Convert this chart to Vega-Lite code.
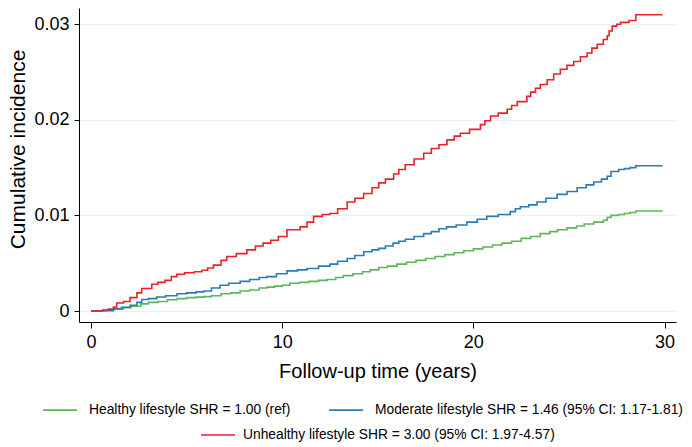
{
  "$schema": "https://vega.github.io/schema/vega-lite/v6.json",
  "width": 597,
  "height": 314,
  "padding": {"left": 79, "top": 8, "right": 16, "bottom": 125},
  "autosize": {"type": "none"},
  "background": "white",
  "config": {
    "font": "Liberation Sans",
    "view": {"stroke": null},
    "axis": {"domainColor": "#000000", "tickColor": "#000000", "labelColor": "#000000", "titleColor": "#000000", "titleFontWeight": "normal", "labelFont": "Liberation Sans", "titleFont": "Liberation Sans"},
    "legend": {"labelFont": "Liberation Sans"}
  },
  "datasets": {
    "healthy": [
      {"t": 0, "ci": 0}, {"t": 0.4, "ci": 0.00002}, {"t": 0.8, "ci": 0.0001}, {"t": 1.2, "ci": 0.0002},
      {"t": 1.7, "ci": 0.00035}, {"t": 2.1, "ci": 0.0005}, {"t": 2.6, "ci": 0.00075}, {"t": 3.0, "ci": 0.0009},
      {"t": 3.5, "ci": 0.001}, {"t": 4.0, "ci": 0.00118}, {"t": 4.5, "ci": 0.0013}, {"t": 5.0, "ci": 0.0014},
      {"t": 5.5, "ci": 0.00145}, {"t": 5.9, "ci": 0.0015}, {"t": 6.3, "ci": 0.0016}, {"t": 6.8, "ci": 0.0018},
      {"t": 7.3, "ci": 0.0019}, {"t": 7.8, "ci": 0.0021}, {"t": 8.3, "ci": 0.0022}, {"t": 8.8, "ci": 0.0024},
      {"t": 9.2, "ci": 0.0025}, {"t": 9.6, "ci": 0.0026}, {"t": 10.0, "ci": 0.0027}, {"t": 10.4, "ci": 0.0029},
      {"t": 10.9, "ci": 0.003}, {"t": 11.4, "ci": 0.0031}, {"t": 11.9, "ci": 0.0032}, {"t": 12.35, "ci": 0.0033},
      {"t": 12.8, "ci": 0.0035}, {"t": 13.2, "ci": 0.0037}, {"t": 13.7, "ci": 0.0039}, {"t": 14.2, "ci": 0.0041},
      {"t": 14.6, "ci": 0.0043}, {"t": 15.05, "ci": 0.00455}, {"t": 15.5, "ci": 0.0047}, {"t": 16.0, "ci": 0.0049},
      {"t": 16.5, "ci": 0.0051}, {"t": 17.0, "ci": 0.0053}, {"t": 17.5, "ci": 0.0055}, {"t": 18.0, "ci": 0.0057},
      {"t": 18.5, "ci": 0.0059}, {"t": 19.0, "ci": 0.0061}, {"t": 19.5, "ci": 0.0063}, {"t": 20.0, "ci": 0.0065},
      {"t": 20.5, "ci": 0.0067}, {"t": 21.0, "ci": 0.0069}, {"t": 21.5, "ci": 0.0071}, {"t": 22.0, "ci": 0.0073},
      {"t": 22.5, "ci": 0.0076}, {"t": 23.0, "ci": 0.0078}, {"t": 23.5, "ci": 0.0081}, {"t": 24.0, "ci": 0.0083},
      {"t": 24.4, "ci": 0.0085}, {"t": 24.9, "ci": 0.0087}, {"t": 25.4, "ci": 0.0089}, {"t": 25.8, "ci": 0.0091},
      {"t": 26.3, "ci": 0.0093}, {"t": 26.8, "ci": 0.0095}, {"t": 27.0, "ci": 0.0098}, {"t": 27.2, "ci": 0.01},
      {"t": 27.6, "ci": 0.0101}, {"t": 27.9, "ci": 0.0102}, {"t": 28.2, "ci": 0.0103}, {"t": 28.5, "ci": 0.01046},
      {"t": 29.9, "ci": 0.01046}
    ],
    "moderate": [
      {"t": 0, "ci": 0}, {"t": 0.5, "ci": 0.00003}, {"t": 1.17, "ci": 0.00025}, {"t": 1.6, "ci": 0.0004},
      {"t": 2.04, "ci": 0.0006}, {"t": 2.4, "ci": 0.0009}, {"t": 2.65, "ci": 0.0012}, {"t": 3.0, "ci": 0.0013},
      {"t": 3.43, "ci": 0.00147}, {"t": 3.9, "ci": 0.0016}, {"t": 4.5, "ci": 0.0018}, {"t": 5.0, "ci": 0.0019},
      {"t": 5.5, "ci": 0.002}, {"t": 5.9, "ci": 0.0021}, {"t": 6.3, "ci": 0.0024}, {"t": 6.75, "ci": 0.0027},
      {"t": 7.2, "ci": 0.0029}, {"t": 7.8, "ci": 0.0031}, {"t": 8.3, "ci": 0.0033}, {"t": 8.8, "ci": 0.0035},
      {"t": 9.2, "ci": 0.0036}, {"t": 9.7, "ci": 0.0039}, {"t": 10.25, "ci": 0.0042}, {"t": 10.8, "ci": 0.0043},
      {"t": 11.3, "ci": 0.00445}, {"t": 11.9, "ci": 0.0047}, {"t": 12.5, "ci": 0.0049}, {"t": 12.9, "ci": 0.0052},
      {"t": 13.4, "ci": 0.0055}, {"t": 13.8, "ci": 0.0058}, {"t": 14.27, "ci": 0.0062}, {"t": 14.7, "ci": 0.0064},
      {"t": 15.05, "ci": 0.00655}, {"t": 15.4, "ci": 0.0068}, {"t": 15.8, "ci": 0.0071}, {"t": 16.1, "ci": 0.0073},
      {"t": 16.44, "ci": 0.0075}, {"t": 16.9, "ci": 0.0078}, {"t": 17.4, "ci": 0.0081}, {"t": 17.8, "ci": 0.0083},
      {"t": 18.2, "ci": 0.0086}, {"t": 18.6, "ci": 0.0088}, {"t": 19.1, "ci": 0.009}, {"t": 19.66, "ci": 0.0093},
      {"t": 20.2, "ci": 0.0096}, {"t": 20.7, "ci": 0.0099}, {"t": 21.3, "ci": 0.0101}, {"t": 21.93, "ci": 0.0104},
      {"t": 22.2, "ci": 0.0107}, {"t": 22.46, "ci": 0.0109}, {"t": 22.9, "ci": 0.0111}, {"t": 23.33, "ci": 0.0114},
      {"t": 23.8, "ci": 0.0118}, {"t": 24.38, "ci": 0.0122}, {"t": 24.9, "ci": 0.0125}, {"t": 25.43, "ci": 0.0129},
      {"t": 25.9, "ci": 0.0132}, {"t": 26.3, "ci": 0.0135}, {"t": 26.7, "ci": 0.0138}, {"t": 27.0, "ci": 0.0141},
      {"t": 27.2, "ci": 0.0146}, {"t": 27.6, "ci": 0.0148}, {"t": 27.9, "ci": 0.0149}, {"t": 28.2, "ci": 0.015},
      {"t": 28.5, "ci": 0.0152}, {"t": 29.9, "ci": 0.0152}
    ],
    "unhealthy": [
      {"t": 0, "ci": 0}, {"t": 0.6, "ci": 0.0001}, {"t": 0.9, "ci": 0.0002}, {"t": 1.17, "ci": 0.00042},
      {"t": 1.34, "ci": 0.00084}, {"t": 1.7, "ci": 0.001}, {"t": 2.04, "ci": 0.0014}, {"t": 2.4, "ci": 0.0019},
      {"t": 2.65, "ci": 0.00235}, {"t": 3.18, "ci": 0.0028}, {"t": 3.5, "ci": 0.003}, {"t": 3.87, "ci": 0.0032},
      {"t": 4.2, "ci": 0.0036}, {"t": 4.49, "ci": 0.00385}, {"t": 4.9, "ci": 0.004}, {"t": 5.4, "ci": 0.0041},
      {"t": 5.8, "ci": 0.00427}, {"t": 6.1, "ci": 0.0045}, {"t": 6.4, "ci": 0.0048}, {"t": 6.8, "ci": 0.0053},
      {"t": 7.1, "ci": 0.0057}, {"t": 7.6, "ci": 0.006}, {"t": 8.15, "ci": 0.0064}, {"t": 8.6, "ci": 0.0068},
      {"t": 9.0, "ci": 0.0071}, {"t": 9.4, "ci": 0.0074}, {"t": 9.8, "ci": 0.0078}, {"t": 10.25, "ci": 0.0085},
      {"t": 10.94, "ci": 0.0088}, {"t": 11.3, "ci": 0.0093}, {"t": 11.64, "ci": 0.0099}, {"t": 12.1, "ci": 0.0101},
      {"t": 12.5, "ci": 0.0102}, {"t": 12.9, "ci": 0.0107}, {"t": 13.4, "ci": 0.0114}, {"t": 13.8, "ci": 0.0118},
      {"t": 14.26, "ci": 0.0123}, {"t": 14.7, "ci": 0.0129}, {"t": 15.05, "ci": 0.0134}, {"t": 15.4, "ci": 0.0138},
      {"t": 15.83, "ci": 0.01434}, {"t": 16.1, "ci": 0.0148}, {"t": 16.44, "ci": 0.0153}, {"t": 16.9, "ci": 0.0159},
      {"t": 17.4, "ci": 0.0165}, {"t": 17.8, "ci": 0.017}, {"t": 18.2, "ci": 0.0174}, {"t": 18.62, "ci": 0.0179},
      {"t": 19.0, "ci": 0.0183}, {"t": 19.32, "ci": 0.0186}, {"t": 19.8, "ci": 0.019}, {"t": 20.37, "ci": 0.0195},
      {"t": 20.6, "ci": 0.0199}, {"t": 20.9, "ci": 0.0204}, {"t": 21.3, "ci": 0.0207}, {"t": 21.77, "ci": 0.0211},
      {"t": 22.0, "ci": 0.0215}, {"t": 22.3, "ci": 0.0219}, {"t": 22.8, "ci": 0.02245}, {"t": 23.0, "ci": 0.0229},
      {"t": 23.25, "ci": 0.0233}, {"t": 23.5, "ci": 0.0237}, {"t": 23.86, "ci": 0.0242}, {"t": 24.2, "ci": 0.0248},
      {"t": 24.55, "ci": 0.0253}, {"t": 24.9, "ci": 0.0257}, {"t": 25.25, "ci": 0.0261}, {"t": 25.6, "ci": 0.0266},
      {"t": 25.95, "ci": 0.027}, {"t": 26.2, "ci": 0.0275}, {"t": 26.48, "ci": 0.0279}, {"t": 26.8, "ci": 0.0284},
      {"t": 27.0, "ci": 0.0288}, {"t": 27.1, "ci": 0.0293}, {"t": 27.26, "ci": 0.0298}, {"t": 27.5, "ci": 0.03},
      {"t": 27.7, "ci": 0.0302}, {"t": 28.14, "ci": 0.0304}, {"t": 28.5, "ci": 0.031}, {"t": 29.9, "ci": 0.031}
    ]
  },
  "encoding": {
    "x": {
      "field": "t", "type": "quantitative",
      "scale": {"domain": [-0.63, 30.6], "nice": false, "zero": false},
      "axis": {"values": [0, 10, 20, 30], "grid": false, "tickSize": 6, "labelFontSize": 18, "labelPadding": 5, "title": "Follow-up time (years)", "titleFontSize": 20, "titlePadding": 10}
    },
    "y": {
      "field": "ci", "type": "quantitative",
      "scale": {"domain": [-0.00115, 0.0317], "nice": false, "zero": false},
      "axis": {"values": [0, 0.01, 0.02, 0.03], "format": ".2~f", "grid": true, "gridColor": "#eaf0f0", "gridWidth": 1, "tickSize": 5, "labelFontSize": 18, "labelPadding": 5, "title": "Cumulative incidence", "titleFontSize": 21, "titleX": -61, "titleY": 141, "titleAlign": "center", "titleBaseline": "middle", "titleAngle": -90}
    }
  },
  "layer": [
    {
      "data": {"name": "healthy"},
      "transform": [{"calculate": "'Healthy lifestyle SHR = 1.00 (ref)'", "as": "g"}],
      "mark": {"type": "line", "interpolate": "step-after", "strokeWidth": 1.6},
      "encoding": {
        "color": {
          "field": "g", "type": "nominal",
          "scale": {"domain": ["Healthy lifestyle SHR = 1.00 (ref)", "Moderate lifestyle SHR = 1.46 (95% CI: 1.17-1.81)"], "range": ["#5cb65c", "#2a7bba"]},
          "legend": {"title": null, "orient": "none", "legendX": -37, "legendY": 384, "direction": "horizontal", "columns": 2, "columnPadding": 34, "symbolType": "stroke", "symbolSize": 1150, "symbolStrokeWidth": 1.6, "labelFontSize": 13.8, "labelOffset": 11, "labelLimit": 500, "labelColor": "#000000"}
        }
      }
    },
    {
      "data": {"name": "moderate"},
      "transform": [{"calculate": "'Moderate lifestyle SHR = 1.46 (95% CI: 1.17-1.81)'", "as": "g"}],
      "mark": {"type": "line", "interpolate": "step-after", "strokeWidth": 1.6},
      "encoding": {
        "color": {"field": "g", "type": "nominal"}
      }
    },
    {
      "data": {"name": "unhealthy"},
      "transform": [{"calculate": "'Unhealthy lifestyle SHR = 3.00 (95% CI: 1.97-4.57)'", "as": "g"}],
      "mark": {"type": "line", "interpolate": "step-after", "strokeWidth": 1.6},
      "encoding": {
        "strokeDash": {
          "field": "g", "type": "nominal",
          "scale": {"domain": ["Unhealthy lifestyle SHR = 3.00 (95% CI: 1.97-4.57)"], "range": [[1, 0]]},
          "legend": {"title": null, "orient": "none", "legendX": 121, "legendY": 409, "direction": "horizontal", "symbolType": "stroke", "symbolSize": 1150, "symbolStrokeWidth": 1.6, "symbolStrokeColor": "#e8222b", "labelFontSize": 13.8, "labelOffset": 7, "labelLimit": 500, "labelColor": "#000000"}
        },
        "color": {"value": "#e8222b"}
      }
    }
  ]
}
